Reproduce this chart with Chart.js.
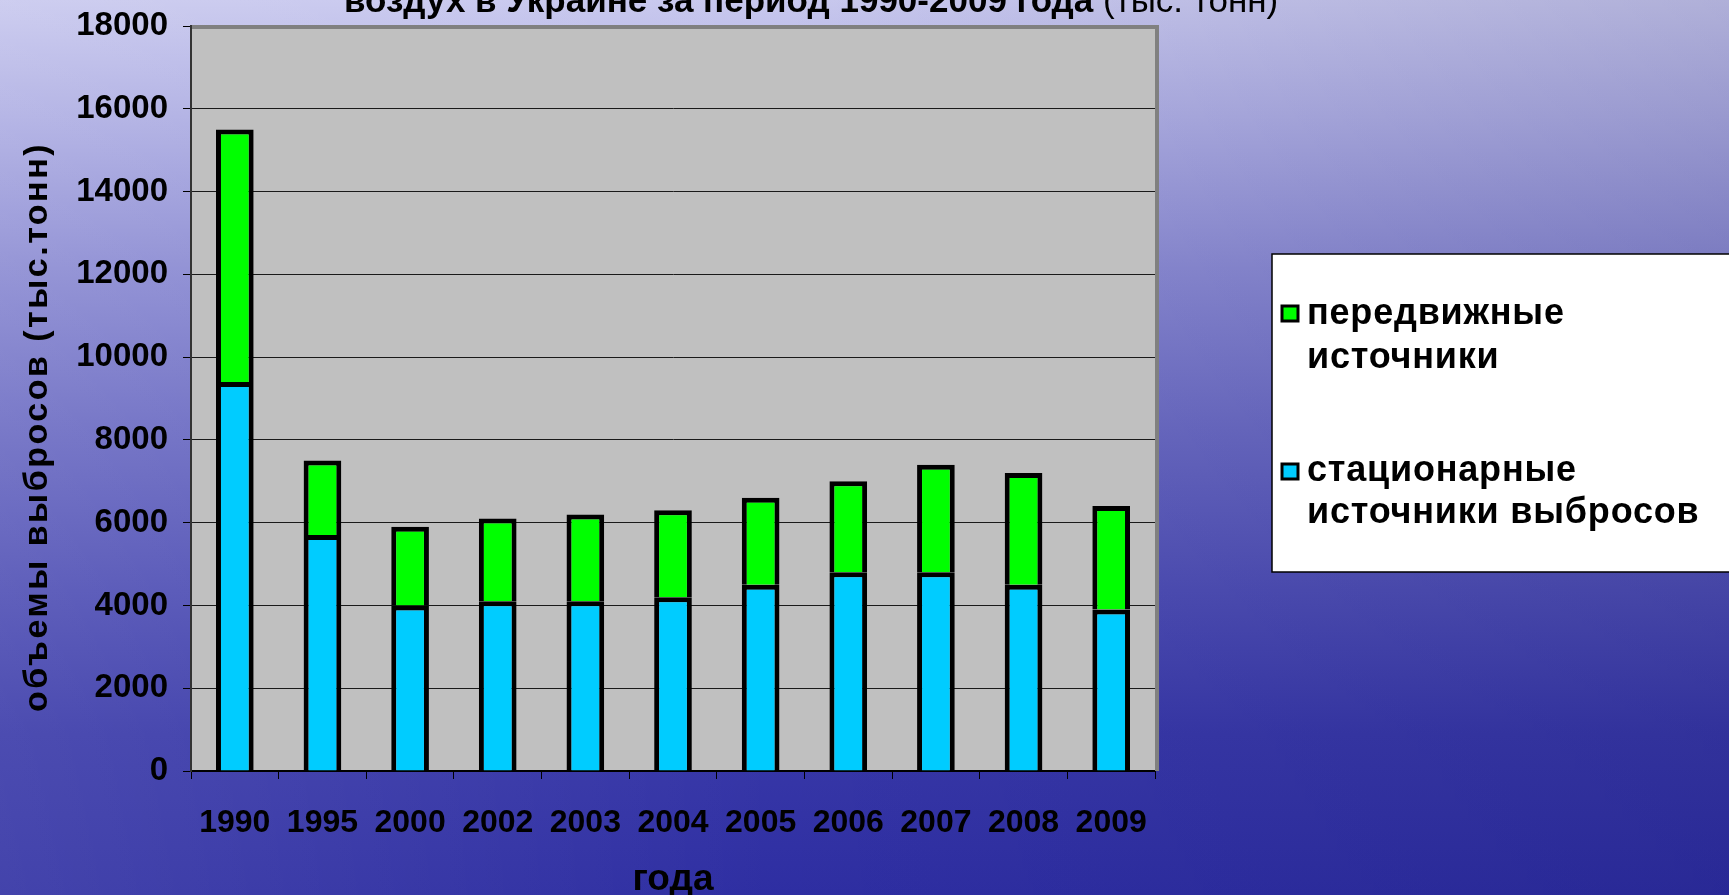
<!DOCTYPE html>
<html>
<head>
<meta charset="utf-8">
<script src="https://cdn.jsdelivr.net/npm/chart.js@4"></script>
<style>
html,body{margin:0;padding:0;width:1729px;height:895px;overflow:hidden;}
body{
  background:
    linear-gradient(90deg, rgba(255,255,255,0.10) 0%, rgba(255,255,255,0) 45%, rgba(0,0,60,0.12) 100%),
    linear-gradient(180deg, #c8c8ee 0%, #acace2 14%, #8a8ad2 30%, #6a6ac2 48%, #4e4eb4 66%, #3838a8 82%, #2e2ea2 100%);
}
#wrap{position:relative;width:1729px;height:895px;}
canvas{display:block;}
</style>
</head>
<body>
<div id="wrap"><canvas id="c" width="1729" height="895"></canvas></div>
<script>
// ---- data ----
const categories = ['1990','1995','2000','2002','2003','2004','2005','2006','2007','2008','2009'];
const stationary = [9400, 5700, 4000, 4100, 4100, 4200, 4500, 4800, 4800, 4500, 3900];
const mobile     = [6100, 1800, 1900, 2000, 2100, 2100, 2100, 2200, 2600, 2700, 2500];
const yTicks = [0, 2000, 4000, 6000, 8000, 10000, 12000, 14000, 16000, 18000];
const seriesNames = ['стационарные источники выбросов', 'передвижные источники'];
const legendLines = [['передвижные', 'источники'], ['стационарные', 'источники выбросов']];
const titleBold = 'воздух в Украине за период 1990-2009 года';
const titleNormal = '(тыс. тонн)';
const yTitle = 'объемы выбросов (тыс.тонн)';
const xTitle = 'года';

const FONT = '"Liberation Sans", Arial, sans-serif';

const decor = {
  id: 'decor',
  beforeDraw(chart) {
    const {ctx, chartArea: a} = chart;
    ctx.save();
    ctx.fillStyle = '#c0c0c0';
    ctx.fillRect(a.left, a.top, a.right - a.left, a.bottom - a.top);
    ctx.restore();
  },
  afterDatasetsDraw(chart) {
    const {ctx, chartArea: a} = chart;
    ctx.save();
    ctx.strokeStyle = '#808080';
    ctx.lineWidth = 4;
    ctx.beginPath();
    ctx.moveTo(a.left + 1, a.top + 1);
    ctx.lineTo(a.right + 2, a.top + 1);
    ctx.lineTo(a.right + 2, a.bottom);
    ctx.stroke();
    ctx.restore();
  },
  afterDraw(chart) {
    const ctx = chart.ctx;
    // chart title (top cut off by the page edge)
    ctx.save();
    ctx.fillStyle = '#000';
    ctx.textBaseline = 'alphabetic';
    ctx.textAlign = 'left';
    ctx.font = 'bold 35px ' + FONT;
    ctx.fillText(titleBold, 344, 12);
    const wb = ctx.measureText(titleBold + ' ').width;
    ctx.font = '35px ' + FONT;
    ctx.fillText(titleNormal, 344 + wb, 12);
    ctx.restore();

    // y axis title
    ctx.save();
    ctx.translate(47, 427);
    ctx.rotate(-Math.PI / 2);
    ctx.fillStyle = '#000';
    ctx.font = 'bold 34px ' + FONT;
    ctx.letterSpacing = '2.5px';
    ctx.textAlign = 'center';
    ctx.textBaseline = 'alphabetic';
    ctx.fillText(yTitle, 0, 0);
    ctx.restore();

    // legend box
    ctx.save();
    ctx.fillStyle = '#ffffff';
    ctx.strokeStyle = '#000';
    ctx.lineWidth = 1.5;
    ctx.fillRect(1272, 254, 480, 318);
    ctx.strokeRect(1272, 254, 480, 318);
    const ds = chart.data.datasets;
    const items = [
      {ds: ds[1], lines: legendLines[0], markY: 306, base: [324, 368]},
      {ds: ds[0], lines: legendLines[1], markY: 464, base: [481, 523]}
    ];
    ctx.font = 'bold 36px ' + FONT;
    ctx.letterSpacing = '0.8px';
    ctx.textAlign = 'left';
    ctx.textBaseline = 'alphabetic';
    items.forEach(it => {
      ctx.fillStyle = it.ds.backgroundColor;
      ctx.fillRect(1282, it.markY, 16, 15);
      ctx.lineWidth = 3;
      ctx.strokeStyle = '#000';
      ctx.strokeRect(1282, it.markY, 16, 15);
      ctx.fillStyle = '#000';
      it.lines.forEach((t, i) => ctx.fillText(t, 1307, it.base[i]));
    });
    ctx.restore();
  }
};

new Chart(document.getElementById('c'), {
  type: 'bar',
  data: {
    labels: categories,
    datasets: [
      {label: seriesNames[0], data: stationary, backgroundColor: '#00ccff', borderColor: '#000', borderWidth: 5},
      {label: seriesNames[1], data: mobile, backgroundColor: '#00ff00', borderColor: '#000', borderWidth: 5}
    ]
  },
  options: {
    responsive: false,
    devicePixelRatio: 1,
    animation: false,
    layout: {padding: {top: 26, right: 574, left: 0, bottom: 0}},
    datasets: {bar: {barPercentage: 0.43, categoryPercentage: 1}},
    plugins: {legend: {display: false}, tooltip: {enabled: false}, title: {display: false}},
    scales: {
      x: {
        stacked: true,
        afterFit(s) { s.height = 124; },
        grid: {display: true, drawOnChartArea: false, drawTicks: true, tickLength: 8, tickColor: '#000', offset: true},
        border: {display: true, color: '#000', width: 2},
        ticks: {color: '#000', font: {family: FONT, size: 32, weight: 'bold'}, padding: 25, maxRotation: 0, autoSkip: false},
        title: {display: true, text: xTitle, color: '#000', font: {family: FONT, size: 37, weight: 'bold', lineHeight: 0.8}, padding: {top: 0, bottom: 0}}
      },
      y: {
        stacked: true,
        min: 0, max: 18000,
        afterFit(s) { s.width = 191; s.paddingTop = 0; s.paddingBottom = 0; },
        afterBuildTicks(s) { s.ticks = yTicks.map(v => ({value: v})); },
        grid: {color: '#1a1a1a', lineWidth: 1, drawTicks: true, tickLength: 8, tickColor: '#000'},
        border: {display: true, color: '#333', width: 2},
        ticks: {color: '#000', font: {family: FONT, size: 33, weight: 'bold'}, padding: 15, callback: v => String(v)}
      }
    }
  },
  plugins: [decor]
});
</script>
</body>
</html>
